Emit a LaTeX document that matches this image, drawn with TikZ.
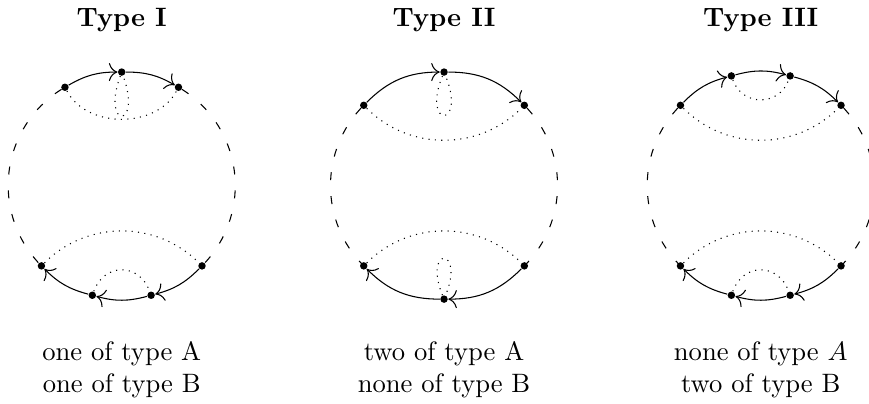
\documentclass[tikz,border=0pt]{standalone}
\usepackage{amsmath}
\usepackage{tikz}
\usetikzlibrary{arrows.meta}

\begin{document}
\begin{tikzpicture}[
    >={To[scale=1.3]},
    vertex/.style={circle, fill, inner sep=0pt, minimum size=2.8pt},
    flow/.style={->},
    pairing/.style={dotted},
    rest/.style={dash pattern=on 3pt off 6pt, dash phase=7.5pt},
    title/.style={font=\bfseries, anchor=base},
    caption/.style={align=center, anchor=base}
]
\useasboundingbox (0,0) rectangle (11.48,5.326);

% Centres
\coordinate (c1) at (1.608,2.874);
\coordinate (c2) at (5.866,2.874);
\coordinate (c3) at (10.050,2.874);

% Type I
\node[title] (t1) at (1.608,4.98) {Type I};
\node[vertex] (I-u1) at ([shift={(120:1.5)}]c1) {};
\node[vertex] (I-u2) at ([shift={(90:1.5)}]c1) {};
\node[vertex] (I-u3) at ([shift={(60:1.5)}]c1) {};
\node[vertex] (I-l1) at ([shift={(225:1.5)}]c1) {};
\node[vertex] (I-l2) at ([shift={(255:1.5)}]c1) {};
\node[vertex] (I-l3) at ([shift={(285:1.5)}]c1) {};
\node[vertex] (I-l4) at ([shift={(315:1.5)}]c1) {};

\draw[flow] (I-u1) to[bend left=15] (I-u2);
\draw[flow] (I-u2) to[bend left=15] (I-u3);
\draw[flow] (I-l4) to[bend left=15] (I-l3);
\draw[flow] (I-l3) to[bend left=15] (I-l2);
\draw[flow] (I-l2) to[bend left=15] (I-l1);
\draw[rest] (I-u1.center) arc[start angle=120, end angle=225, radius=1.5];
\draw[rest] (I-u3.center) arc[start angle=60, end angle=-45, radius=1.5];
\draw[pairing] (I-u1) to[bend right=62] (I-u3);
\draw[pairing] (I-u2) to[out=-110, in=-70, min distance=7.5mm] (I-u2);
\draw[pairing] (I-l1) to[bend left=45] (I-l4);
\draw[pairing] (I-l2) to[bend left=70, looseness=1.4] (I-l3);

\node[caption] (n1) at (1.608,0.145) {one of type A\\one of type B};

% Type II
\node[title] (t2) at (5.866,4.98) {Type II};
\node[vertex] (II-u1) at ([shift={(135:1.5)}]c2) {};
\node[vertex] (II-u2) at ([shift={(90:1.5)}]c2) {};
\node[vertex] (II-u3) at ([shift={(45:1.5)}]c2) {};
\node[vertex] (II-l1) at ([shift={(225:1.5)}]c2) {};
\node[vertex] (II-l2) at ([shift={(270:1.5)}]c2) {};
\node[vertex] (II-l3) at ([shift={(315:1.5)}]c2) {};

\draw[flow] (II-u1) to[bend left=22.5] (II-u2);
\draw[flow] (II-u2) to[bend left=22.5] (II-u3);
\draw[flow] (II-l3) to[bend left=22.5] (II-l2);
\draw[flow] (II-l2) to[bend left=22.5] (II-l1);
\draw[rest] (II-u1.center) arc[start angle=135, end angle=225, radius=1.5];
\draw[rest] (II-u3.center) arc[start angle=45, end angle=-45, radius=1.5];
\draw[pairing] (II-u1) to[bend right=45] (II-u3);
\draw[pairing] (II-u2) to[out=-112, in=-68, min distance=7.5mm] (II-u2);
\draw[pairing] (II-l1) to[bend left=45] (II-l3);
\draw[pairing] (II-l2) to[out=112, in=68, min distance=7mm] (II-l2);

\node[caption] (n2) at (5.866,0.145) {two of type A\\none of type B};

% Type III
\node[title] (t3) at (10.050,4.98) {Type III};
\node[vertex] (III-u1) at ([shift={(135:1.5)}]c3) {};
\node[vertex] (III-u2) at ([shift={(105:1.5)}]c3) {};
\node[vertex] (III-u3) at ([shift={(75:1.5)}]c3) {};
\node[vertex] (III-u4) at ([shift={(45:1.5)}]c3) {};
\node[vertex] (III-l1) at ([shift={(225:1.5)}]c3) {};
\node[vertex] (III-l2) at ([shift={(255:1.5)}]c3) {};
\node[vertex] (III-l3) at ([shift={(285:1.5)}]c3) {};
\node[vertex] (III-l4) at ([shift={(315:1.5)}]c3) {};

\draw[flow] (III-u1) to[bend left=15] (III-u2);
\draw[flow] (III-u2) to[bend left=15] (III-u3);
\draw[flow] (III-u3) to[bend left=15] (III-u4);
\draw[flow] (III-l4) to[bend left=15] (III-l3);
\draw[flow] (III-l3) to[bend left=15] (III-l2);
\draw[flow] (III-l2) to[bend left=15] (III-l1);
\draw[rest] (III-u1.center) arc[start angle=135, end angle=225, radius=1.5];
\draw[rest] (III-u4.center) arc[start angle=45, end angle=-45, radius=1.5];
\draw[pairing] (III-u1) to[bend right=45] (III-u4);
\draw[pairing] (III-u2) to[bend right=70, looseness=1.3] (III-u3);
\draw[pairing] (III-l1) to[bend left=45] (III-l4);
\draw[pairing] (III-l2) to[bend left=70, looseness=1.4] (III-l3);

\node[caption] (n3) at (10.050,0.145) {none of type $A$\\two of type B};

\end{tikzpicture}
\end{document}
